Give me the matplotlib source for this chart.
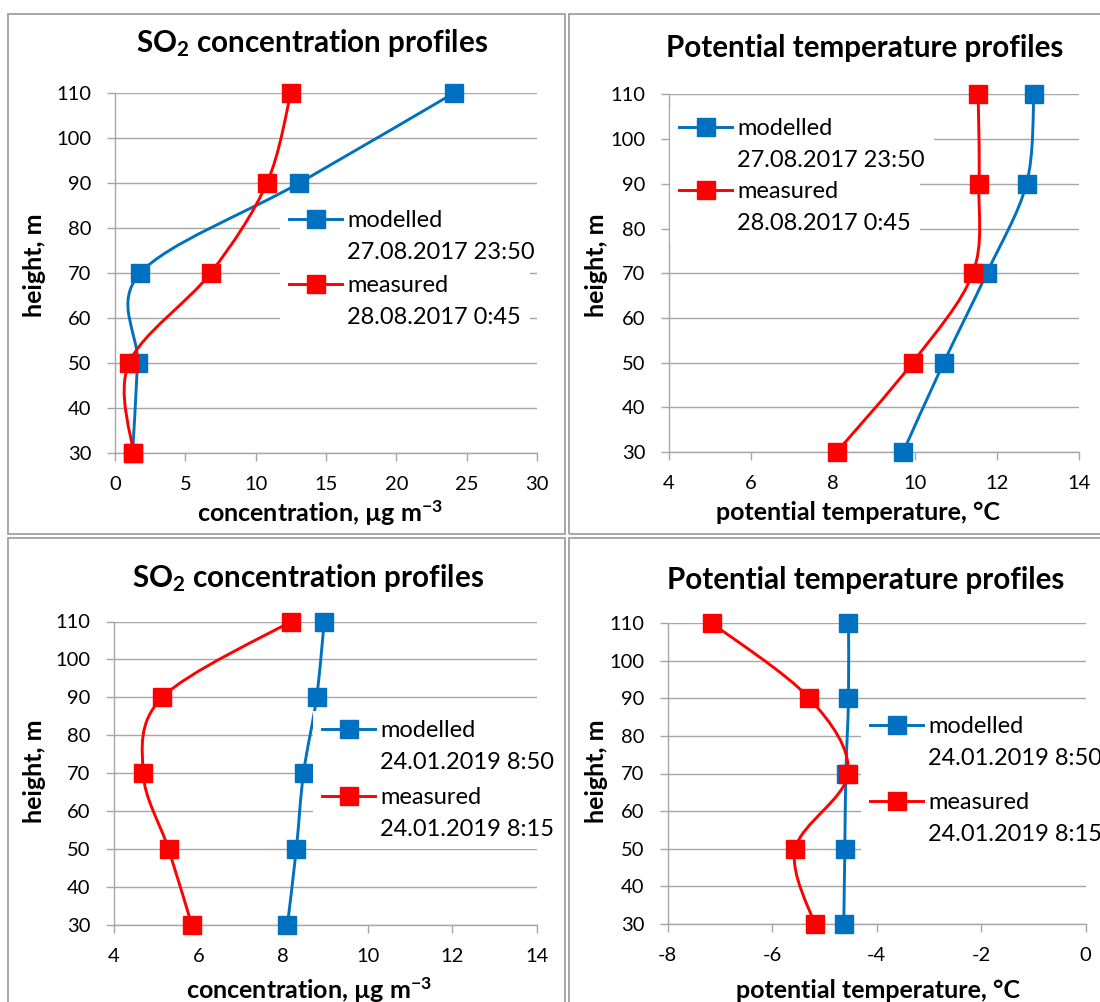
import numpy as np
import matplotlib
matplotlib.use('Agg')
import matplotlib.pyplot as plt
from matplotlib.path import Path
from matplotlib.patches import PathPatch, Rectangle
from matplotlib.lines import Line2D

plt.rcParams['font.family'] = ['Lato', 'DejaVu Sans']
plt.rcParams['axes.unicode_minus'] = False
plt.rcParams['mathtext.fontset'] = 'custom'
plt.rcParams['mathtext.rm'] = 'Lato:bold'
plt.rcParams['mathtext.default'] = 'rm'

# heights of the profile points, m
heights = [30, 50, 70, 90, 110]

# august 2017
so2_mod_2017 = [1.25, 1.6, 1.8, 13.1, 24.1]
so2_meas_2017 = [1.3, 1.0, 6.8, 10.8, 12.5]
pt_mod_2017 = [9.71, 10.7, 11.75, 12.72, 12.9]
pt_meas_2017 = [8.09, 9.94, 11.41, 11.56, 11.54]
# january 2019
so2_mod_2019 = [8.10, 8.31, 8.48, 8.79, 8.97]
so2_meas_2019 = [5.84, 5.29, 4.69, 5.14, 8.18]
pt_mod_2019 = [-4.63, -4.61, -4.59, -4.54, -4.54]
pt_meas_2019 = [-5.19, -5.56, -4.55, -5.29, -7.16]

dates_2017 = ['27.08.2017 23:50', '28.08.2017 0:45']
dates_2019 = ['24.01.2019 8:50', '24.01.2019 8:15']

BLUE = '#0070C0'
RED = '#FF0000'
GRID = '#A6A6A6'
W, H = 1100, 1002

fig = plt.figure(figsize=(W / 100, H / 100), dpi=100)


def px_axes(l, t, r, b):
    return fig.add_axes([l / W, 1 - b / H, (r - l) / W, (b - t) / H])


def smooth_path(x, y):
    # excel-like smoothed line (bezier through the points)
    p = np.column_stack([x, y]).astype(float)
    n = len(p)
    verts = [p[0]]
    codes = [Path.MOVETO]
    for i in range(n - 1):
        p0 = p[max(i - 1, 0)]
        p1 = p[i]
        p2 = p[i + 1]
        p3 = p[min(i + 2, n - 1)]
        verts += [p1 + (p2 - p0) / 6, p2 - (p3 - p1) / 6, p2]
        codes += [Path.CURVE4] * 3
    return Path(verts, codes)


def draw_series(ax, x, color):
    ax.add_patch(PathPatch(smooth_path(x, heights), fill=False, ec=color, lw=2.1,
                           zorder=3, clip_on=False))
    ax.plot(x, heights, linestyle='none', marker='s', ms=13.5, color=color,
            zorder=4, clip_on=False)


def style_axes(ax, xlim, xticks):
    ax.set_xlim(*xlim)
    ax.set_ylim(30, 110)
    ax.set_xticks(xticks)
    ax.set_yticks(range(30, 111, 10))
    ax.grid(axis='y', color=GRID, lw=1.0)
    ax.set_axisbelow(True)
    for s in ['top', 'right']:
        ax.spines[s].set_visible(False)
    for s in ['left', 'bottom']:
        ax.spines[s].set_color(GRID)
        ax.spines[s].set_linewidth(1.0)
    ax.tick_params(direction='out', length=5.8, width=1.0, color=GRID,
                   labelsize=14.5, labelcolor='black')
    ax.tick_params(axis='x', pad=11)
    ax.tick_params(axis='y', pad=11)


def add_legend(ax, color, name, date, x_px, y_px):
    h = Line2D([], [], color=color, lw=2.1, marker='s', ms=13.5)
    blank = Line2D([], [], linestyle='none')
    leg = ax.legend([h, blank], [name, date], loc='upper left',
                    bbox_to_anchor=(x_px / W, 1 - y_px / H), bbox_transform=fig.transFigure,
                    fontsize=17, frameon=True, fancybox=False, edgecolor='none',
                    facecolor='white', framealpha=1, handlelength=2.23,
                    handletextpad=0.22, labelspacing=0.44, borderpad=0.4,
                    borderaxespad=0, numpoints=1)
    ax.add_artist(leg)


def frame(l, t, r, b):
    fig.add_artist(Rectangle((l / W, 1 - b / H), (r - l) / W, (b - t) / H,
                             transform=fig.transFigure, fill=False, ec='#A0A0A0', lw=1.3))


def label(x, y, s, size, rot=0):
    fig.text(x / W, 1 - y / H, s, ha='center', va='center', fontsize=size,
             weight='bold', rotation=rot)


frame(8, 14, 565, 534)
frame(569, 14, 1110, 534)
frame(8, 538, 565, 1010)
frame(569, 538, 1110, 1010)

# top left: SO2 2017
ax1 = px_axes(115, 93, 537, 453)
style_axes(ax1, (0, 30), range(0, 31, 5))
draw_series(ax1, so2_mod_2017, BLUE)
draw_series(ax1, so2_meas_2017, RED)
add_legend(ax1, BLUE, 'modelled', dates_2017[0], 280, 201)
add_legend(ax1, RED, 'measured', dates_2017[1], 280, 266)
label(312, 43, r'SO$_2$ concentration profiles', 21.3)
label(320, 513, r'concentration, µg m$^{-3}$', 18)
label(35, 265, 'height, m', 18, 90)

# top right: potential temperature 2017
ax2 = px_axes(669, 94.5, 1079, 452)
style_axes(ax2, (4, 14), range(4, 15, 2))
draw_series(ax2, pt_mod_2017, BLUE)
draw_series(ax2, pt_meas_2017, RED)
add_legend(ax2, BLUE, 'modelled', dates_2017[0], 670, 109)
add_legend(ax2, RED, 'measured', dates_2017[1], 670, 172)
label(865, 48, 'Potential temperature profiles', 21.3)
label(858, 512, 'potential temperature, °C', 18)
label(596, 265, 'height, m', 18, 90)

# bottom left: SO2 2019
ax3 = px_axes(114, 621.5, 537, 925)
style_axes(ax3, (4, 14), range(4, 15, 2))
draw_series(ax3, so2_mod_2019, BLUE)
draw_series(ax3, so2_meas_2019, RED)
add_legend(ax3, BLUE, 'modelled', dates_2019[0], 313, 711)
add_legend(ax3, RED, 'measured', dates_2019[1], 313, 778)
label(308, 578, r'SO$_2$ concentration profiles', 21.3)
label(309, 990, r'concentration, µg m$^{-3}$', 18)
label(35, 771, 'height, m', 18, 90)

# bottom right: potential temperature 2019
ax4 = px_axes(667.7, 623, 1085.7, 924)
style_axes(ax4, (-8, 0), range(-8, 1, 2))
draw_series(ax4, pt_mod_2019, BLUE)
draw_series(ax4, pt_meas_2019, RED)
add_legend(ax4, BLUE, 'modelled', dates_2019[0], 861, 707)
add_legend(ax4, RED, 'measured', dates_2019[1], 861, 783)
label(866, 580, 'Potential temperature profiles', 21.3)
label(878, 991, 'potential temperature, °C', 18)
label(596, 771, 'height, m', 18, 90)

fig.savefig('out.png', dpi=100)
